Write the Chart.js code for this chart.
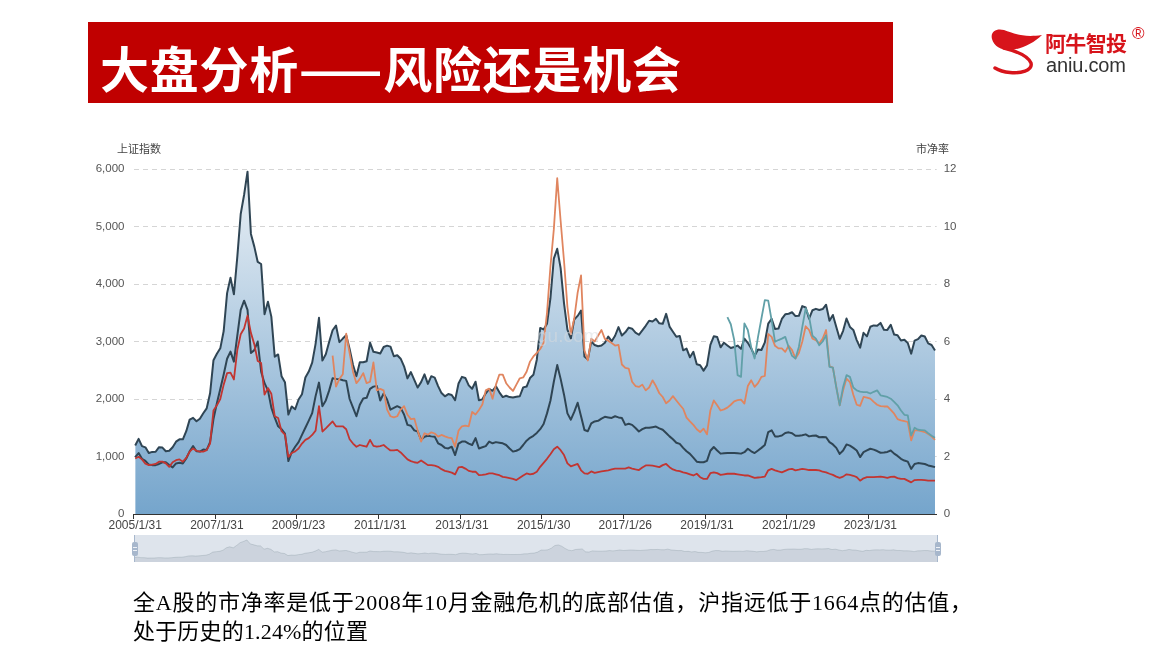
<!DOCTYPE html>
<html><head><meta charset="utf-8">
<script src="https://cdn.jsdelivr.net/npm/chart.js@4.4.1/dist/chart.umd.min.js"></script>
<style>
html,body{margin:0;padding:0;background:#fff;width:1173px;height:659px;overflow:hidden;}
#banner{position:absolute;left:88px;top:22px;width:805px;height:81px;background:#c00000;}
#main{position:absolute;left:0;top:0;}
#overlay{position:absolute;left:0;top:0;pointer-events:none;}
#slider{position:absolute;left:134px;top:535px;width:804px;height:27px;background:rgba(167,183,204,0.38);}
#mini{position:absolute;left:0;top:0;}
.hline{position:absolute;top:0;width:1px;height:27px;background:#a7b7cc;}
.knob{position:absolute;top:7px;width:6px;height:14px;background:#a7b7cc;border-radius:2px;}
.knob i{position:absolute;left:1px;width:4px;height:1px;background:#eef1f6;}
</style></head><body>
<div id="banner"></div>
<canvas id="main" width="1173" height="659"></canvas>
<div id="slider">
  <canvas id="mini" width="804" height="27"></canvas>
  <div class="hline" style="left:0"></div>
  <div class="knob" style="left:-2.5px"><i style="top:5px"></i><i style="top:8px"></i></div>
  <div class="hline" style="left:803px"></div>
  <div class="knob" style="left:800.5px"><i style="top:5px"></i><i style="top:8px"></i></div>
</div>
<svg id="overlay" width="1173" height="659" xmlns="http://www.w3.org/2000/svg">
  <text x="100" y="88" font-family="Noto Sans CJK SC" font-weight="700" font-size="49" fill="#ffffff" textLength="581" lengthAdjust="spacing">大盘分析——风险还是机会</text>
  <path d="M992,39 C990,31 997,28 1004,30 C1013,33 1022,38 1042,35 C1034,43 1023,48 1012,50 C1003,51 994,47 992,39 Z" fill="#d7141b"/>
  <path d="M1004,48 C1016,51 1028,56 1031,63 C1033,71 1020,73.5 1010,72.5 C1004,72 999,70.5 995,68" fill="none" stroke="#d7141b" stroke-width="3.4" stroke-linecap="round"/>
  <text x="1045" y="50.5" font-family="Noto Sans CJK SC" font-weight="700" font-size="21" fill="#d7141b" textLength="82" lengthAdjust="spacing">阿牛智投</text>
  <text x="1132" y="39" font-family="Liberation Sans" font-size="17" fill="#d7141b">®</text>
  <text x="1046" y="71.5" font-family="Liberation Sans" font-size="20" fill="#333333" textLength="80" lengthAdjust="spacing">aniu.com</text>
  <text x="117" y="153" font-family="Noto Sans CJK SC" font-size="11" fill="#444">上证指数</text>
  <text x="916" y="153" font-family="Noto Sans CJK SC" font-size="11" fill="#444">市净率</text>
  <text x="133" y="610" font-family="Liberation Serif, Noto Sans CJK SC" font-size="22" fill="#000" textLength="839" lengthAdjust="spacing">全A股的市净率是低于2008年10月金融危机的底部估值，沪指远低于1664点的估值，</text>
  <text x="133" y="639" font-family="Liberation Serif, Noto Sans CJK SC" font-size="22" fill="#000" textLength="235" lengthAdjust="spacing">处于历史的1.24%的位置</text>
</svg>
<script>
// ---- categories (month-end observations, 2005/1 .. 2024/8) ----
const months = [];
for (let y = 2005; y <= 2024; y++) for (let m = 1; m <= 12; m++) { if (months.length < 236) months.push(y + '/' + m); }
const xTickLabels = ['2005/1/31','2007/1/31','2009/1/23','2011/1/31','2013/1/31','2015/1/30','2017/1/26','2019/1/31','2021/1/29','2023/1/31'];
const leftTicks = [0,1000,2000,3000,4000,5000,6000];
const rightTicks = [0,2,4,6,8,10,12];

// 上证指数 (left axis)
const sse = [
 1191,1306,1181,1159,1060,1080,1083,1162,1155,1092,1099,1161,
 1258,1299,1298,1440,1641,1672,1612,1658,1752,1837,2099,2675,
 2786,2881,3183,3841,4109,3820,4471,5218,5552,5954,4871,4650,
 4383,4348,3473,3693,3433,2736,2775,2397,2293,1729,1871,1821,
 1991,2082,2373,2477,2633,2959,3412,2668,2779,2996,3195,3277,
 2989,3051,3110,2871,2592,2398,2638,2639,2656,2979,2820,2808,
 2791,2905,2928,2911,2743,2762,2701,2568,2359,2468,2333,2199,
 2293,2428,2263,2397,2373,2225,2103,2047,2086,2069,1980,2269,
 2385,2366,2237,2178,2301,1979,1994,2098,2175,2142,2220,2116,
 2033,2056,2033,2026,2039,2048,2202,2217,2364,2420,2683,3235,
 3210,3310,3748,4441,4612,4277,3664,3206,3053,3383,3445,3539,
 2738,2688,3004,2938,2917,2930,2979,3085,3005,3100,3250,3104,
 3159,3242,3223,3155,3117,3192,3273,3361,3349,3393,3317,3307,
 3481,3259,3169,3082,3095,2847,2876,2725,2821,2603,2588,2494,
 2585,2941,3091,3078,2899,2979,2932,2886,2905,2929,2872,3050,
 2977,2880,2750,2860,2852,2985,3310,3396,3218,3225,3392,3473,
 3483,3509,3442,3447,3615,3591,3397,3544,3568,3547,3564,3640,
 3361,3462,3252,3047,3186,3399,3253,3202,3024,2893,3151,3089,
 3256,3280,3273,3323,3205,3202,3291,3120,3110,3018,3030,2975,
 2789,3015,3041,3105,3087,2967,2939,2842
];
// 市净率 series (right axis)
const pbDark = [
 1.98,2.12,1.92,1.85,1.72,1.70,1.70,1.74,1.80,1.80,1.70,1.62,
 1.76,1.78,1.76,1.93,2.18,2.36,2.18,2.17,2.24,2.23,2.50,3.30,
 3.85,4.35,4.85,5.40,5.65,5.30,6.20,7.10,7.42,7.10,5.60,5.70,
 6.00,4.95,4.55,4.30,3.70,3.35,3.05,2.95,2.80,1.84,2.15,2.34,
 2.50,2.75,3.00,3.25,3.51,4.10,4.57,3.75,3.95,4.30,4.72,4.70,
 4.69,4.65,4.63,4.00,3.70,3.40,3.80,4.02,4.04,4.35,4.43,4.45,
 3.95,4.19,3.98,3.63,3.69,3.75,3.69,3.46,3.10,3.07,2.91,2.87,
 2.58,2.69,2.72,2.70,2.69,2.46,2.40,2.30,2.28,2.34,2.05,2.45,
 2.52,2.52,2.45,2.40,2.64,2.28,2.32,2.36,2.52,2.46,2.50,2.48,
 2.46,2.40,2.28,2.17,2.20,2.26,2.40,2.55,2.65,2.72,2.82,2.95,
 3.13,3.50,3.94,4.60,5.18,4.70,4.15,3.50,3.28,3.55,3.87,3.40,
 2.92,2.88,3.15,3.22,3.24,3.32,3.38,3.36,3.34,3.40,3.36,3.34,
 3.10,3.14,3.10,2.99,2.87,2.95,3.00,3.00,3.02,3.04,2.98,2.93,
 2.82,2.70,2.60,2.48,2.44,2.30,2.18,2.09,1.96,1.82,1.80,1.80,
 1.85,2.20,2.33,2.21,2.10,2.11,2.12,2.12,2.12,2.11,2.10,2.15,
 2.27,2.18,2.12,2.21,2.30,2.40,2.85,2.91,2.70,2.70,2.73,2.82,
 2.84,2.81,2.72,2.72,2.74,2.77,2.70,2.72,2.73,2.67,2.68,2.67,
 2.50,2.42,2.30,2.09,2.21,2.42,2.38,2.30,2.21,1.98,2.15,2.21,
 2.27,2.24,2.19,2.13,2.14,2.16,2.21,2.10,2.02,1.92,1.86,1.82,
 1.57,1.74,1.77,1.76,1.74,1.69,1.66,1.63
];
const pbRed = [
 1.93,1.99,1.90,1.75,1.70,1.72,1.74,1.82,1.82,1.76,1.64,1.80,
 1.87,1.90,1.82,1.95,2.17,2.28,2.20,2.17,2.17,2.22,2.45,3.60,
 3.78,4.00,4.50,4.90,4.92,4.68,5.70,6.25,6.45,6.90,6.30,5.90,
 5.32,5.25,4.15,4.38,4.18,3.40,3.34,2.88,2.76,1.99,2.12,2.18,
 2.28,2.45,2.58,2.64,2.75,2.90,3.75,2.87,2.98,3.10,3.22,3.05,
 3.05,3.05,2.95,2.60,2.45,2.34,2.40,2.37,2.34,2.58,2.37,2.34,
 2.36,2.40,2.30,2.21,2.21,2.23,2.14,2.02,1.90,1.84,1.80,1.78,
 1.86,1.78,1.70,1.70,1.68,1.64,1.56,1.50,1.47,1.44,1.38,1.62,
 1.64,1.58,1.50,1.47,1.47,1.35,1.36,1.38,1.41,1.41,1.38,1.35,
 1.29,1.27,1.25,1.22,1.18,1.26,1.34,1.41,1.38,1.40,1.47,1.64,
 1.78,1.92,2.08,2.25,2.34,2.22,2.05,1.76,1.66,1.70,1.74,1.52,
 1.41,1.40,1.48,1.43,1.46,1.48,1.50,1.52,1.55,1.58,1.58,1.58,
 1.58,1.62,1.58,1.55,1.53,1.62,1.69,1.69,1.68,1.66,1.63,1.70,
 1.74,1.63,1.55,1.51,1.49,1.45,1.42,1.38,1.34,1.40,1.28,1.22,
 1.22,1.42,1.45,1.42,1.36,1.38,1.40,1.40,1.40,1.38,1.36,1.34,
 1.34,1.30,1.26,1.27,1.28,1.30,1.52,1.57,1.52,1.48,1.45,1.50,
 1.55,1.57,1.52,1.54,1.57,1.55,1.53,1.53,1.53,1.52,1.47,1.45,
 1.40,1.36,1.30,1.26,1.30,1.38,1.36,1.33,1.28,1.16,1.24,1.28,
 1.28,1.28,1.29,1.30,1.28,1.26,1.29,1.30,1.25,1.22,1.22,1.16,
 1.10,1.18,1.19,1.19,1.18,1.16,1.16,1.16
];
const pbOrange = [
 null,null,null,null,null,null,null,null,null,null,null,null,
 null,null,null,null,null,null,null,null,null,null,null,null,
 null,null,null,null,null,null,null,null,null,null,null,null,
 null,null,null,null,null,null,null,null,null,null,null,null,
 null,null,null,null,null,null,null,null,null,null,5.51,4.43,
 4.70,4.86,6.27,5.60,4.95,4.55,4.70,4.90,4.55,4.60,5.27,4.30,
 4.35,4.30,3.63,3.40,3.36,3.40,3.63,3.75,3.45,3.30,3.32,2.90,
 2.52,2.81,2.76,2.84,2.80,2.69,2.75,2.70,2.66,2.64,2.34,2.90,
 3.05,3.07,3.05,3.55,3.46,3.62,3.81,4.30,4.36,4.01,4.50,4.85,
 4.85,4.55,4.40,4.28,4.50,4.72,4.75,4.95,5.30,5.48,5.60,5.74,
 5.95,7.00,8.60,9.90,11.68,10.20,8.80,7.20,6.25,6.80,7.70,8.30,
 5.69,5.34,6.10,6.00,6.20,6.40,6.09,6.03,5.95,5.86,5.88,5.20,
 5.08,5.06,4.60,4.45,4.42,4.50,4.30,4.40,4.65,4.45,4.20,4.07,
 3.85,3.95,4.10,3.95,3.80,3.66,3.35,3.22,3.10,2.95,2.85,2.97,
 2.77,3.60,3.95,3.78,3.60,3.64,3.70,3.80,3.92,3.96,3.98,3.84,
 4.45,4.65,4.42,4.55,4.77,4.80,6.26,6.16,5.85,5.76,5.76,5.64,
 5.85,5.70,5.41,5.60,5.99,6.53,6.40,6.10,6.05,5.93,6.10,6.40,
 5.14,5.09,4.42,3.78,4.30,4.71,4.59,4.15,3.80,3.76,4.07,4.05,
 4.01,3.90,3.80,3.75,3.74,3.74,3.62,3.49,3.30,3.26,3.23,3.20,
 2.56,2.91,2.91,2.88,2.85,2.78,2.70,2.58
];
const pbTeal = [
 null,null,null,null,null,null,null,null,null,null,null,null,
 null,null,null,null,null,null,null,null,null,null,null,null,
 null,null,null,null,null,null,null,null,null,null,null,null,
 null,null,null,null,null,null,null,null,null,null,null,null,
 null,null,null,null,null,null,null,null,null,null,null,null,
 null,null,null,null,null,null,null,null,null,null,null,null,
 null,null,null,null,null,null,null,null,null,null,null,null,
 null,null,null,null,null,null,null,null,null,null,null,null,
 null,null,null,null,null,null,null,null,null,null,null,null,
 null,null,null,null,null,null,null,null,null,null,null,null,
 null,null,null,null,null,null,null,null,null,null,null,null,
 null,null,null,null,null,null,null,null,null,null,null,null,
 null,null,null,null,null,null,null,null,null,null,null,null,
 null,null,null,null,null,null,null,null,null,null,null,null,
 null,null,null,null,null,null,6.85,6.60,6.05,4.83,4.77,6.63,
 6.40,5.80,5.41,6.16,6.80,7.44,7.42,6.74,5.99,6.05,6.10,6.16,
 5.80,5.50,5.41,5.81,6.50,7.15,6.86,6.20,6.10,5.87,6.00,6.22,
 5.12,5.09,4.40,3.78,4.42,4.83,4.77,4.40,4.30,4.26,4.24,4.24,
 4.19,4.25,4.30,4.13,4.10,4.07,4.01,3.90,3.78,3.60,3.45,3.43,
 2.73,3.00,2.93,2.92,2.91,2.81,2.72,2.65
];

const FONT = 'Liberation Sans';

const watermark = {
  id: 'watermark',
  afterDatasetsDraw(chart) {
    const c = chart.ctx; c.save();
    c.font = '19px ' + FONT; c.fillStyle = 'rgba(215,218,222,0.55)';
    c.textBaseline = 'alphabetic'; c.fillText('gu.com', 537, 342);
    c.restore();
  }
};

const areaFill = (ctx) => {
  const a = ctx.chart.chartArea;
  if (!a) return 'rgba(150,185,215,1)';
  const g = ctx.chart.ctx.createLinearGradient(0, a.top, 0, a.bottom);
  g.addColorStop(0, 'rgb(236,241,246)');
  g.addColorStop(1, 'rgb(117,165,204)');
  return g;
};

new Chart(document.getElementById('main'), {
  type: 'line',
  data: {
    labels: months,
    datasets: [
      {data: pbTeal, yAxisID: 'y1', borderColor: '#61a0a8', borderWidth: 1.8, fill: false, pointRadius: 0},
      {data: pbOrange, yAxisID: 'y1', borderColor: '#e0855f', borderWidth: 1.8, fill: false, pointRadius: 0},
      {data: pbRed, yAxisID: 'y1', borderColor: '#c23531', borderWidth: 1.8, fill: false, pointRadius: 0},
      {data: pbDark, yAxisID: 'y1', borderColor: '#2f4554', borderWidth: 2, fill: false, pointRadius: 0},
      {data: sse, yAxisID: 'y', borderColor: '#2f4554', borderWidth: 2, fill: 'origin', backgroundColor: areaFill, pointRadius: 0}
    ]
  },
  options: {
    responsive: false, animation: false, events: [],
    layout: {padding: {left: 0, top: 169, right: 206.3, bottom: 115}},
    plugins: {legend: {display: false}, tooltip: {enabled: false}},
    elements: {line: {tension: 0, borderJoinStyle: 'round'}, point: {radius: 0}},
    scales: {
      x: {
        type: 'category', offset: true,
        grid: {offset: true, drawOnChartArea: false, drawTicks: true, tickLength: 5, lineWidth: 1,
               color: (c) => (c.index % 24 === 0 || c.index === months.length) ? '#333' : 'rgba(0,0,0,0)'},
        border: {display: true, color: '#333', width: 1},
        ticks: {autoSkip: false, maxRotation: 0, minRotation: 0, padding: -1, color: '#444',
                font: {family: FONT, size: 12},
                callback: (v, i) => (i % 24 === 0 && xTickLabels[i / 24]) ? xTickLabels[i / 24] : ''},
        afterFit: (s) => { s.height = 30; }
      },
      y: {
        position: 'left', min: 0, max: 6000,
        afterBuildTicks: (s) => { s.ticks = leftTicks.map(v => ({value: v})); },
        grid: {color: '#d5d5d5', drawTicks: false, lineWidth: 1},
        border: {display: false, dash: [5, 4]},
        ticks: {padding: 9, color: '#555', font: {family: FONT, size: 11.5},
                callback: (v) => v.toLocaleString('en-US')},
        afterFit: (s) => { s.width = 133.5; }
      },
      y1: {
        position: 'right', min: 0, max: 12,
        afterBuildTicks: (s) => { s.ticks = rightTicks.map(v => ({value: v})); },
        grid: {drawOnChartArea: false, drawTicks: false},
        border: {display: false},
        ticks: {padding: 7, color: '#555', font: {family: FONT, size: 11.5}},
        afterFit: (s) => { s.width = 30; }
      }
    }
  },
  plugins: [watermark]
});

// data-zoom preview strip
new Chart(document.getElementById('mini'), {
  type: 'line',
  data: {labels: months, datasets: [{data: sse, fill: 'origin', backgroundColor: 'rgba(47,69,84,0.10)',
         borderColor: 'rgba(47,69,84,0.22)', borderWidth: 0.7, pointRadius: 0, tension: 0}]},
  options: {
    responsive: false, animation: false, events: [],
    layout: {padding: 0},
    plugins: {legend: {display: false}, tooltip: {enabled: false}},
    scales: {x: {display: false}, y: {display: false, min: 0, max: 7300}}
  }
});
</script>
</body></html>
